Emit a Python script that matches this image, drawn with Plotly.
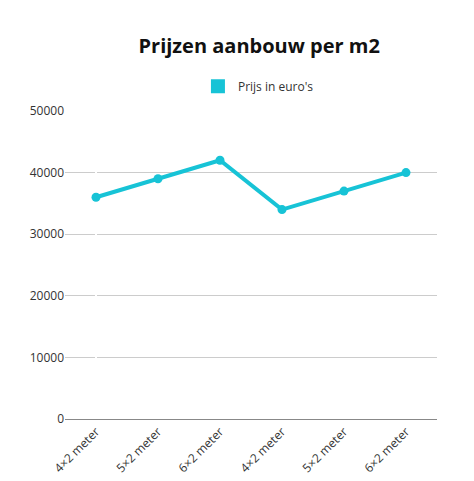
import plotly.graph_objects as go

labels = ["4×2 meter", "5×2 meter", "6×2 meter", "4×2 meter", "5×2 meter", "6×2 meter"]
prices = [36000, 39000, 42000, 34000, 37000, 40000]
positions = list(range(len(labels)))

fig = go.Figure()
fig.add_trace(go.Scatter(
    x=positions, y=prices, mode='lines+markers', name="Prijs in euro's",
    line=dict(color='#17C3D6', width=4),
    marker=dict(color='#17C3D6', size=9),
    showlegend=False,
))
# legend square
fig.add_trace(go.Scatter(
    x=[None], y=[None], mode='markers', name="Prijs in euro's",
    marker=dict(color='#17C3D6', size=14, symbol='square'),
))

fig.update_layout(
    width=474, height=481,
    font=dict(family='Open Sans', size=12, color='#333'),
    title=dict(text='<b>Prijzen aanbouw per m2</b>', x=0.53, y=0.935, xanchor='center',
               font=dict(size=20, color='#111')),
    legend=dict(orientation='h', x=0.52, xanchor='center', y=1.08, yanchor='middle',
                font=dict(size=12)),
    margin=dict(l=57, r=45, t=103, b=70),
    plot_bgcolor='white', paper_bgcolor='white',
    xaxis=dict(tickmode='array', tickvals=positions, ticktext=labels, tickangle=-45,
               range=[-0.5, 5.5], showgrid=False, showline=True, linecolor='#888'),
    yaxis=dict(range=[0, 50000], dtick=10000, gridcolor='#ccc', zeroline=False,
               tickformat='d', ticks=''),
)
fig.write_html("out.html")
